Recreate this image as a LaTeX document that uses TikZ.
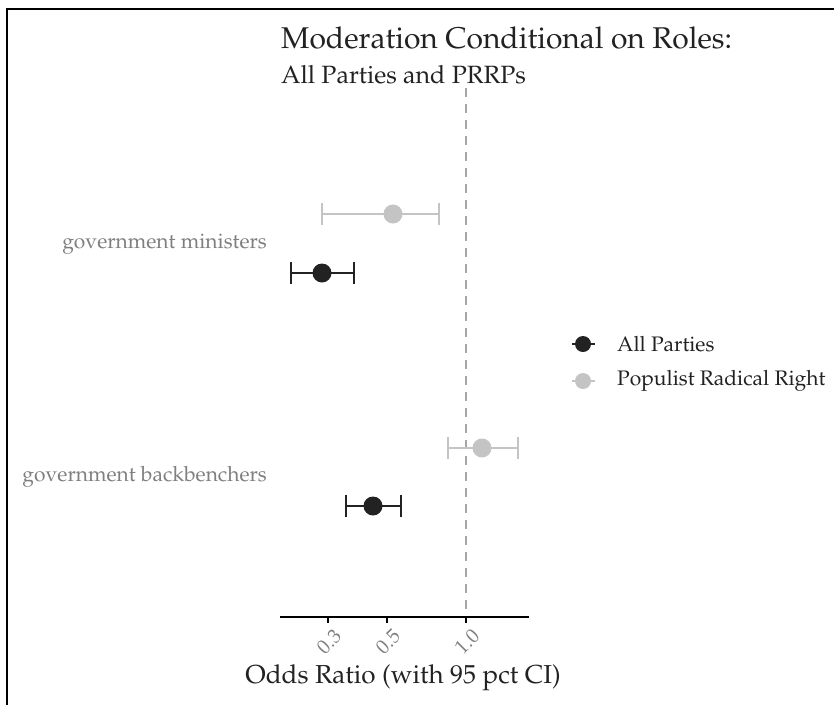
\documentclass[tikz,border=0pt]{standalone}
\usepackage[T1]{fontenc}
\usepackage{mathpazo}
\RequirePackage{xcolor}
\definecolor{dotblack}{HTML}{222222}
\definecolor{dotgrey}{HTML}{C4C4C4}
\definecolor{labgrey}{HTML}{7F7F7F}
\definecolor{refgrey}{HTML}{A6A6A6}

\begin{document}
\begin{tikzpicture}[x=1pt, y=-1pt,
    bar/.style={line width=1.3pt},
    ylab/.style={anchor=east, inner sep=0pt, text=labgrey, font=\fontsize{21}{25}\selectfont},
    legtext/.style={anchor=west, inner sep=0pt, text=dotblack, font=\fontsize{21}{25}\selectfont}]
  \useasboundingbox (0,0) rectangle (834,705);
  \draw[line width=1.5pt] (7,705) -- (7,9) -- (834,9);

  % titles
  \node[anchor=base west, inner sep=0pt, text=dotblack, font=\fontsize{30}{36}\selectfont] (title) at (281,48) {Moderation Conditional on Roles:};
  \node[anchor=base west, inner sep=0pt, text=dotblack, font=\fontsize{25}{30}\selectfont] (subtitle) at (281,83) {All Parties and PRRPs};

  % reference line and axis
  \draw[refgrey, line width=1.5pt, dash pattern=on 9pt off 7pt] (466,88) -- (466,617);
  \draw[line width=1.2pt] (280,617) -- (529,617);
  \foreach \x/\lab [count=\i] in {328/0.3, 387/0.5, 466/1.0}
    {\draw[line width=1.2pt] (\x,617) -- (\x,623);
     \node[rotate=45, anchor=east, inner sep=0pt, text=labgrey, font=\fontsize{20}{24}\selectfont] (tick\i) at (\x+10,633) {\lab};
    }
  \node[anchor=base, inner sep=0pt, text=dotblack, font=\fontsize{26}{31}\selectfont] (xtitle) at (403,683) {Odds Ratio (with 95 pct CI)};

  % estimates with intervals
  \foreach \y/\lo/\mid/\hi/\c in {214/322/393/439/dotgrey, 273/291/322/354/dotblack, 448/448/482/518/dotgrey, 506/346/373/401/dotblack}
    {\draw[\c, bar] (\lo,\y-11) -- (\lo,\y+11) (\lo,\y) -- (\hi,\y) (\hi,\y-11) -- (\hi,\y+11);
     \fill[\c] (\mid,\y) circle (9.5pt);
    }
  \node[ylab] (ministers) at (267,244) {government ministers};
  \node[ylab] (backbench) at (267,477) {government backbenchers};

  % legend
  \draw[dotblack, bar] (572,344) -- (595,344);
  \fill[dotblack] (583,344) circle (8pt);
  \node[legtext] (legall) at (617,344) {All Parties};
  \draw[dotgrey, bar] (572,381) -- (595,381);
  \fill[dotgrey] (583,381) circle (8pt);
  \node[legtext] (legprr) at (617,381) {Populist Radical Right};
\end{tikzpicture}
\end{document}
